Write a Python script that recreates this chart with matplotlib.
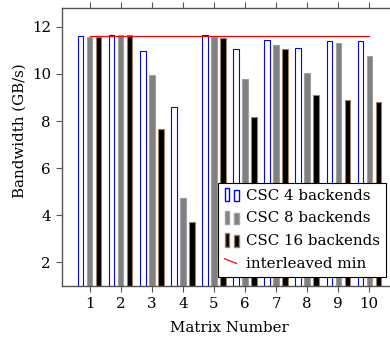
import matplotlib
matplotlib.use("Agg")
import matplotlib.pyplot as plt
from matplotlib.patches import Rectangle
from matplotlib.lines import Line2D
from matplotlib.legend_handler import HandlerBase
import numpy as np

plt.rcParams['font.family'] = ['DejaVu Serif']

matrices = [1, 2, 3, 4, 5, 6, 7, 8, 9, 10]
csc4 = [11.61, 11.66, 10.97, 8.61, 11.65, 11.04, 11.45, 11.09, 11.41, 11.42]
csc8 = [11.58, 11.65, 9.94, 4.74, 11.58, 9.80, 11.24, 10.03, 11.30, 10.75]
csc16 = [11.55, 11.65, 7.67, 3.70, 11.51, 8.17, 11.06, 9.10, 8.90, 8.83]
interleaved_min = [11.6] * 10
labels = ["CSC 4 backends", "CSC 8 backends", "CSC 16 backends", "interleaved min"]

FS = 10.8

fig = plt.figure(figsize=(3.9, 3.43), dpi=100)
ax = fig.add_axes([62/390, 1-286/343, 335/390, 278/343])

x = np.array(matrices, dtype=float)
w = 0.165
sh = 0.29
ax.bar(x - sh, np.array(csc4) - 1, bottom=1, width=w, facecolor='white', edgecolor='#0000ff', linewidth=0.8, label=labels[0])
ax.bar(x, np.array(csc8) - 1, bottom=1, width=w, facecolor='#808080', edgecolor='#a0a0a0', linewidth=0.8, label=labels[1])
ax.bar(x + sh, np.array(csc16) - 1, bottom=1, width=w, facecolor='black', edgecolor='#a08060', linewidth=0.8, label=labels[2])
ax.plot(x, interleaved_min, color='#ff0000', linewidth=0.9, label=labels[3])

ax.set_xlim(0.1, 10.9)
ax.set_ylim(1, 12.8)
ax.set_xticks(matrices)
ax.set_yticks([2, 4, 6, 8, 10, 12])
ax.tick_params(direction='out', length=4, width=0.8, color='#555555', labelsize=FS,
               top=True, right=False, labeltop=False, pad=4)
for s in ax.spines.values():
    s.set_color('#555555')
    s.set_linewidth(1.0)
ax.spines['right'].set_visible(False)
ax.set_xlabel("Matrix Number", fontsize=FS, labelpad=7)
fig.text(19.5/390, 1-131/343, "Bandwidth (GB/s)", rotation=90, ha='center', va='center', fontsize=FS)


class TwoBarHandler(HandlerBase):
    def __init__(self, fc, ec):
        super().__init__()
        self.fc = fc
        self.ec = ec

    def create_artists(self, legend, orig_handle, xdescent, ydescent, width, height, fontsize, trans):
        bw = width * 0.28
        h = height * 1.3
        y0 = -ydescent - 0.18 * height
        r1 = Rectangle((-xdescent + width * 0.02, y0), bw, h, facecolor=self.fc, edgecolor=self.ec, linewidth=1.0, transform=trans)
        r2 = Rectangle((-xdescent + width * 0.62, y0), bw, h * 0.85, facecolor=self.fc, edgecolor=self.ec, linewidth=1.0, transform=trans)
        return [r1, r2]


class SlantLineHandler(HandlerBase):
    def create_artists(self, legend, orig_handle, xdescent, ydescent, width, height, fontsize, trans):
        l = Line2D([-xdescent + width * 0.02, -xdescent + width * 0.75],
                   [-ydescent + height * 0.85, -ydescent + height * 0.4],
                   color='#ff0000', linewidth=0.9, transform=trans)
        return [l]


h1 = Rectangle((0, 0), 1, 1)
h2 = Rectangle((0, 0), 1, 1)
h3 = Rectangle((0, 0), 1, 1)
h4 = Line2D([], [])
leg = ax.legend([h1, h2, h3, h4], labels,
                handler_map={h1: TwoBarHandler('white', '#0000ff'),
                             h2: TwoBarHandler('#808080', '#a0a0a0'),
                             h3: TwoBarHandler('black', '#a08060'),
                             h4: SlantLineHandler()},
                loc='lower right', bbox_to_anchor=((386-62)/335, (286-276.7)/278),
                fontsize=FS, frameon=True, fancybox=False, framealpha=1,
                edgecolor='black', handlelength=1.1, handletextpad=0.35,
                borderpad=0.4, labelspacing=0.58, borderaxespad=0)
leg.get_frame().set_linewidth(0.8)

fig.savefig("out.png", dpi=100)
